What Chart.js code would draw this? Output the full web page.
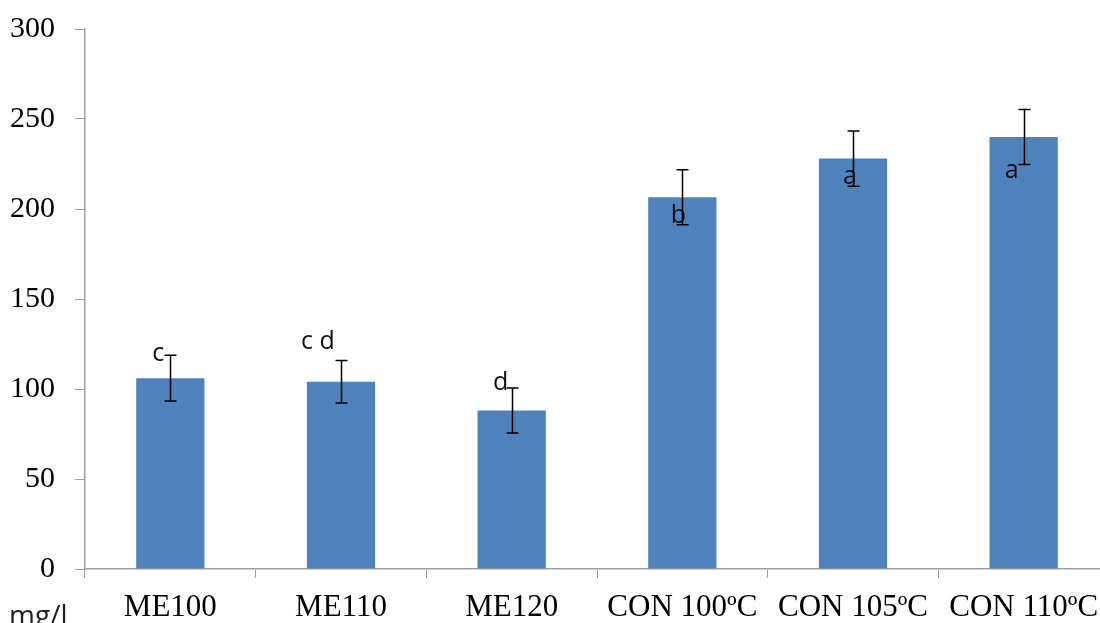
<!DOCTYPE html>
<html>
<head>
<meta charset="utf-8">
<script src="https://cdn.jsdelivr.net/npm/chart.js@4.4.1/dist/chart.umd.min.js"></script>
<style>
  html, body { margin: 0; padding: 0; background: #fff; overflow: hidden; }
  #wrap { width: 1110px; height: 623px; }
</style>
</head>
<body>
<div id="wrap"><canvas id="chart" width="1110" height="623"></canvas></div>
<script>
// Treatments and measured concentration (mg/l)
const categories = ['ME100', 'ME110', 'ME120', 'CON 100ºC', 'CON 105ºC', 'CON 110ºC'];
const means = [106, 104, 88, 206.5, 228, 240];
const sds = [12.7, 11.8, 12.5, 15.3, 15.3, 15.3];
// Significance groups
const letters = ['c', 'c d', 'd', 'b', 'a', 'a'];
const yTicks = [0, 50, 100, 150, 200, 250, 300];

const axisGray = '#a0a0a0';

// Error bars (mean ± SD)
const errorBars = {
  id: 'errorBars',
  afterDatasetsDraw(chart) {
    const { ctx } = chart;
    const x = chart.scales.x, y = chart.scales.y;
    ctx.save();
    ctx.strokeStyle = '#000';
    ctx.lineWidth = 1.5;
    means.forEach((m, i) => {
      const cx = Math.round(x.getPixelForValue(i)) + 0.5;
      const top = y.getPixelForValue(m + sds[i]);
      const bot = y.getPixelForValue(m - sds[i]);
      ctx.beginPath();
      ctx.moveTo(cx, top); ctx.lineTo(cx, bot);
      ctx.moveTo(cx - 6, top); ctx.lineTo(cx + 6, top);
      ctx.moveTo(cx - 6, bot); ctx.lineTo(cx + 6, bot);
      ctx.stroke();
    });
    ctx.restore();
  }
};

// Group letters placed near each error bar, plus the unit caption
const annotations = {
  id: 'annotations',
  afterDraw(chart, args, opts) {
    const { ctx } = chart;
    const x = chart.scales.x, y = chart.scales.y;
    ctx.save();
    ctx.fillStyle = '#111';
    ctx.font = '25px "Open Sans"';
    ctx.textAlign = 'center';
    ctx.textBaseline = 'middle';
    letters.forEach((t, i) => {
      const [dx, dy] = opts.offsets[i];
      const cx = x.getPixelForValue(i) + dx;
      const cy = y.getPixelForValue(means[i] + sds[i]) + dy;
      ctx.fillText(t, cx, cy);
    });
    ctx.font = '28px "Open Sans"';
    ctx.textAlign = 'left';
    ctx.textBaseline = 'alphabetic';
    ctx.fillStyle = '#222';
    ctx.fillText('mg/l', 9, 625);
    ctx.restore();
  }
};

new Chart(document.getElementById('chart'), {
  type: 'bar',
  data: {
    labels: categories,
    datasets: [{
      data: means,
      backgroundColor: '#4f81bd',
      borderWidth: 0,
      barPercentage: 0.8,
      categoryPercentage: 0.5
    }]
  },
  options: {
    responsive: false,
    animation: false,
    layout: { padding: { top: 29, right: 1, left: 0, bottom: 0 } },
    plugins: {
      legend: { display: false },
      tooltip: { enabled: false },
      annotations: {
        offsets: [[-12, -1], [-23, -19], [-11, -5], [-4, 46], [-3, 46], [-12, 61]]
      }
    },
    scales: {
      x: {
        offset: true,
        grid: {
          offset: true,
          drawOnChartArea: false,
          drawTicks: true,
          tickLength: 9,
          color: axisGray
        },
        border: { color: axisGray, width: 1.5 },
        ticks: {
          color: '#000',
          font: { family: '"Liberation Serif"', size: 31 },
          padding: 11,
          maxRotation: 0,
          autoSkip: false
        },
        afterFit(scale) { scale.height = 54; scale.paddingLeft = 0; scale.paddingRight = 0; }
      },
      y: {
        min: 0,
        max: 300,
        afterBuildTicks(scale) { scale.ticks = yTicks.map(v => ({ value: v })); },
        grid: {
          drawOnChartArea: false,
          drawTicks: true,
          tickLength: 10,
          color: axisGray
        },
        border: { color: axisGray, width: 1.5 },
        ticks: {
          color: '#000',
          font: { family: '"Liberation Serif"', size: 30 },
          padding: 20
        },
        afterFit(scale) { scale.width = 85; scale.paddingTop = 0; scale.paddingBottom = 0; }
      }
    }
  },
  plugins: [errorBars, annotations]
});
</script>
</body>
</html>
